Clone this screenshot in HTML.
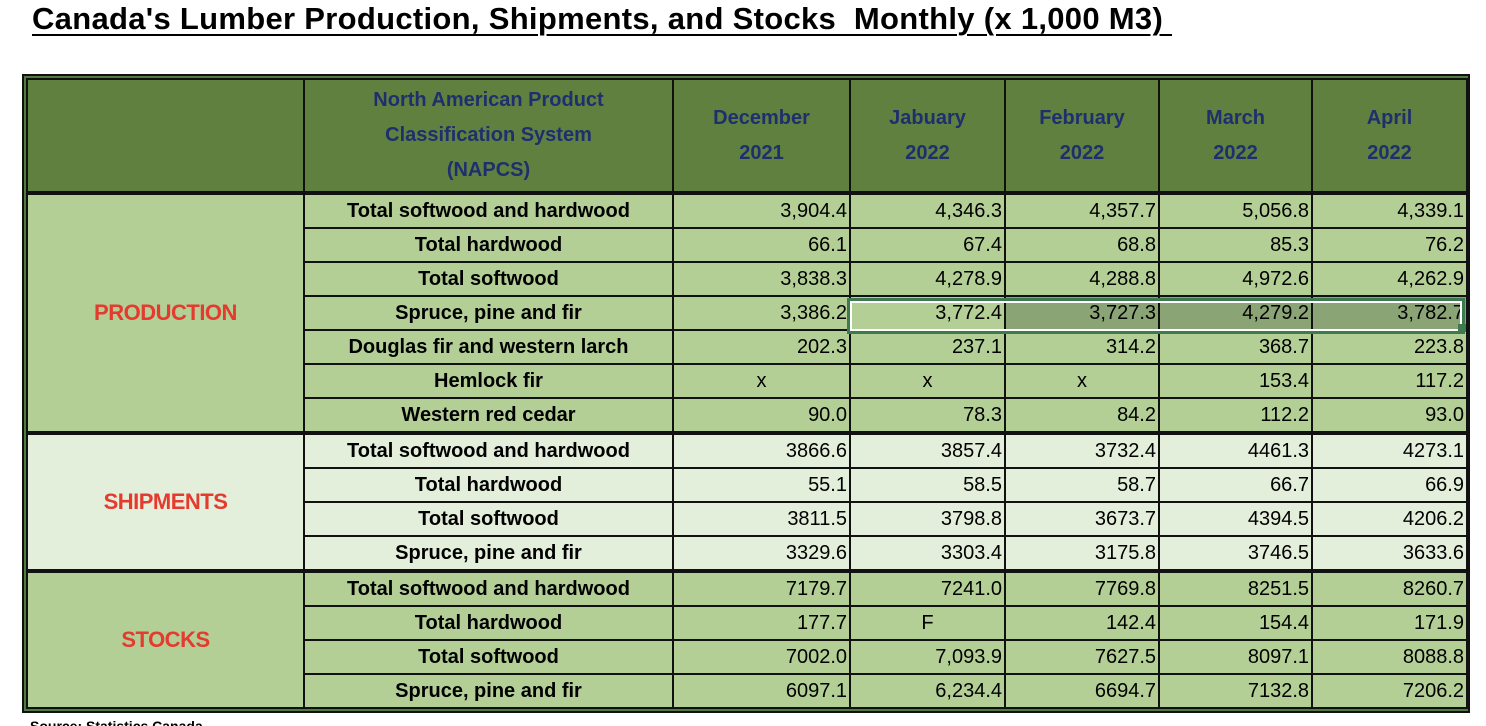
<!DOCTYPE html>
<html><head><meta charset="utf-8"><style>
html,body{margin:0;padding:0;background:#fff;width:1486px;height:726px;overflow:hidden;}
body{font-family:"Liberation Sans",sans-serif;position:relative;}
.title{position:absolute;left:32px;top:1px;font-weight:bold;font-size:31px;text-decoration:underline;text-decoration-thickness:2px;text-underline-offset:5px;letter-spacing:0.3px;white-space:pre;color:#000;}
.frame{position:absolute;left:22px;top:74px;width:1440px;border:2px solid #111;padding:2px;background:#4f7a41;}
table{border-collapse:collapse;table-layout:fixed;width:1440px;}
td{border:2px solid #111;padding:0;font-size:20px;height:32px;white-space:nowrap;overflow:hidden;}
td.l{font-weight:bold;text-align:center;font-size:20px;letter-spacing:0px;}
td.n{text-align:right;padding-right:2px;}
td.c{text-align:center;}
tr.h td{height:111px;background:#5f803f;color:#1f2f6e;font-weight:bold;text-align:center;line-height:35px;font-size:20px;border-bottom:4px solid #111;}
.p td{background:#b3cf96;}
.s td{background:#e4efdb;}
.k td{background:#b3cf96;}
td.g{color:#e53a2e;font-weight:bold;font-size:22px;text-align:center;letter-spacing:-0.5px;}
tr.first td{border-top:4px solid #111;}
td.hl{background:#8ba476!important;}
.sel{position:absolute;left:847px;top:298px;width:612px;height:30px;border:3px solid #3e7a4e;box-shadow:inset 0 0 0 2px #fff;pointer-events:none;}
.handle{position:absolute;left:1458px;top:324px;width:8px;height:8px;background:#3e7a4e;}
.src{position:absolute;left:30px;top:718px;font-size:14px;font-weight:bold;}
</style></head><body>
<div class="title">Canada's Lumber Production, Shipments, and Stocks  Monthly (x 1,000 M3) </div>
<div class="frame">
<table>
<colgroup><col style="width:277px"><col style="width:369px"><col style="width:177px"><col style="width:155px"><col style="width:154px"><col style="width:153px"><col style="width:155px"></colgroup>
<tr class="h"><td></td><td>North American Product<br>Classification System<br>(NAPCS)</td><td>December<br>2021</td><td>Jabuary<br>2022</td><td>February<br>2022</td><td>March<br>2022</td><td>April<br>2022</td></tr>
<tr class="p first"><td class="g" rowspan="7">PRODUCTION</td><td class="l">Total softwood and hardwood</td><td class="n">3,904.4</td><td class="n">4,346.3</td><td class="n">4,357.7</td><td class="n">5,056.8</td><td class="n">4,339.1</td></tr>
<tr class="p"><td class="l">Total hardwood</td><td class="n">66.1</td><td class="n">67.4</td><td class="n">68.8</td><td class="n">85.3</td><td class="n">76.2</td></tr>
<tr class="p"><td class="l">Total softwood</td><td class="n">3,838.3</td><td class="n">4,278.9</td><td class="n">4,288.8</td><td class="n">4,972.6</td><td class="n">4,262.9</td></tr>
<tr class="p"><td class="l">Spruce, pine and fir</td><td class="n">3,386.2</td><td class="n">3,772.4</td><td class="n hl">3,727.3</td><td class="n hl">4,279.2</td><td class="n hl">3,782.7</td></tr>
<tr class="p"><td class="l">Douglas fir and western larch</td><td class="n">202.3</td><td class="n">237.1</td><td class="n">314.2</td><td class="n">368.7</td><td class="n">223.8</td></tr>
<tr class="p"><td class="l">Hemlock fir</td><td class="c">x</td><td class="c">x</td><td class="c">x</td><td class="n">153.4</td><td class="n">117.2</td></tr>
<tr class="p"><td class="l">Western red cedar</td><td class="n">90.0</td><td class="n">78.3</td><td class="n">84.2</td><td class="n">112.2</td><td class="n">93.0</td></tr>
<tr class="s first"><td class="g" rowspan="4">SHIPMENTS</td><td class="l">Total softwood and hardwood</td><td class="n">3866.6</td><td class="n">3857.4</td><td class="n">3732.4</td><td class="n">4461.3</td><td class="n">4273.1</td></tr>
<tr class="s"><td class="l">Total hardwood</td><td class="n">55.1</td><td class="n">58.5</td><td class="n">58.7</td><td class="n">66.7</td><td class="n">66.9</td></tr>
<tr class="s"><td class="l">Total softwood</td><td class="n">3811.5</td><td class="n">3798.8</td><td class="n">3673.7</td><td class="n">4394.5</td><td class="n">4206.2</td></tr>
<tr class="s"><td class="l">Spruce, pine and fir</td><td class="n">3329.6</td><td class="n">3303.4</td><td class="n">3175.8</td><td class="n">3746.5</td><td class="n">3633.6</td></tr>
<tr class="k first"><td class="g" rowspan="4">STOCKS</td><td class="l">Total softwood and hardwood</td><td class="n">7179.7</td><td class="n">7241.0</td><td class="n">7769.8</td><td class="n">8251.5</td><td class="n">8260.7</td></tr>
<tr class="k"><td class="l">Total hardwood</td><td class="n">177.7</td><td class="c">F</td><td class="n">142.4</td><td class="n">154.4</td><td class="n">171.9</td></tr>
<tr class="k"><td class="l">Total softwood</td><td class="n">7002.0</td><td class="n">7,093.9</td><td class="n">7627.5</td><td class="n">8097.1</td><td class="n">8088.8</td></tr>
<tr class="k"><td class="l">Spruce, pine and fir</td><td class="n">6097.1</td><td class="n">6,234.4</td><td class="n">6694.7</td><td class="n">7132.8</td><td class="n">7206.2</td></tr>
</table>
</div>
<div class="sel"></div><div class="handle"></div>
<div class="src">Source: Statistics Canada</div>
</body></html>
